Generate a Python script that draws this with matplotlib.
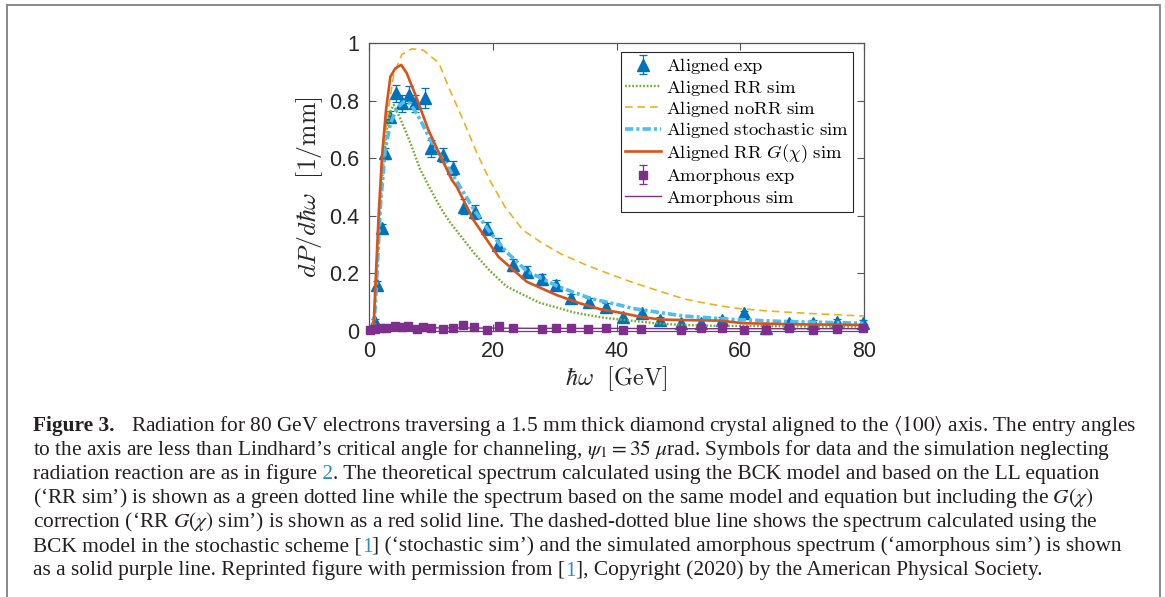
import matplotlib
matplotlib.use('Agg')
import matplotlib.pyplot as plt
from matplotlib.patches import Rectangle

# ---------------- data ----------------
E_al = [0.97, 1.35, 2.05, 2.6, 3.4, 4.36, 5.28, 6.5, 7.43, 9.05, 10.1, 12.0, 13.6, 15.35, 17.1,
        19.0, 20.9, 23.2, 25.5, 27.9, 30.3, 32.7, 35.6, 38.3, 41.1, 44.05, 47.1, 50.5, 53.7, 57.1,
        60.6, 64.2, 67.9, 71.8, 75.7, 79.8]
V_al = [0.03, 0.16, 0.357, 0.617, 0.744, 0.825, 0.79, 0.82, 0.79, 0.81, 0.634, 0.611, 0.565, 0.432, 0.414,
        0.357, 0.30, 0.229, 0.206, 0.179, 0.16, 0.113, 0.10, 0.085, 0.05, 0.061, 0.038, 0.027, 0.027, 0.038,
        0.061, 0.01, 0.027, 0.027, 0.032, 0.027]
ERR_al = [0.01, 0.015, 0.015, 0.02, 0.02, 0.03, 0.03, 0.03, 0.03, 0.035, 0.03, 0.025, 0.025, 0.025, 0.025,
          0.022, 0.022, 0.02, 0.02, 0.018, 0.018, 0.015, 0.015, 0.012, 0.012, 0.012, 0.01, 0.01, 0.01, 0.01,
          0.01, 0.01, 0.01, 0.01, 0.01, 0.01]

E_am = [0.16, 0.97, 1.9, 2.75, 4.2, 5.28, 6.35, 7.7, 8.8, 10.1, 12.0, 13.5, 15.25, 17.0, 19.0,
        21.05, 23.2, 27.9, 30.3, 32.7, 35.4, 38.3, 41.1, 44.0, 50.5, 53.7, 57.1, 60.6, 64.2, 67.9,
        71.8, 75.7, 79.8]
V_am = [0.003, 0.006, 0.010, 0.012, 0.018, 0.013, 0.018, 0.006, 0.013, 0.010, 0.006, 0.009, 0.021, 0.015, 0.004,
        0.017, 0.012, 0.006, 0.009, 0.012, 0.006, 0.009, 0.004, 0.006, 0.004, 0.009, 0.012, 0.003, 0.003, 0.009,
        0.003, 0.006, 0.009]
ERR_am = [0.003] * len(E_am)

E_rr = [0.5, 0.8, 1.0, 1.3, 1.8, 2.4, 3.0, 3.5, 4.0, 5.0, 6.0, 7.0, 8.2, 9.5, 11.5, 13.0, 15.0, 17.0,
        19.5, 22.2, 25.0, 27.6, 30.3, 33.0, 35.5, 38.0, 40.5, 44.0, 48.0, 52.0, 56.4, 62.0, 68.0, 74.0, 80.0]
V_rr = [0.0, 0.02, 0.1, 0.22, 0.43, 0.6, 0.72, 0.765, 0.785, 0.74, 0.69, 0.635, 0.565, 0.51, 0.43, 0.38, 0.325, 0.27,
        0.21, 0.155, 0.125, 0.098, 0.082, 0.065, 0.055, 0.046, 0.04, 0.032, 0.024, 0.02, 0.018, 0.017, 0.016, 0.015, 0.015]

E_norr = [0.6, 1.0, 1.5, 2.0, 2.6, 3.2, 4.0, 5.3, 6.9, 8.8, 11.3, 13.0, 15.2, 17.4, 19.5, 22.0, 24.9, 28.0,
          31.0, 35.0, 38.0, 42.7, 46.0, 50.8, 55.0, 58.9, 63.0, 67.0, 72.0, 76.0, 80.0]
V_norr = [0.0, 0.1, 0.33, 0.53, 0.68, 0.78, 0.89, 0.96, 0.98, 0.975, 0.93, 0.84, 0.733, 0.62, 0.524, 0.43, 0.35, 0.305,
          0.268, 0.23, 0.205, 0.168, 0.145, 0.112, 0.094, 0.08, 0.072, 0.066, 0.06, 0.056, 0.052]

E_st = [0.6, 1.0, 1.3, 1.83, 2.6, 3.45, 4.5, 5.6, 6.7, 8.3, 10.0, 13.6, 17.0, 19.5, 21.2, 22.2, 25.5, 30.6,
        35.8, 40.5, 42.7, 50.8, 58.9, 67.0, 79.9]
V_st = [0.0, 0.08, 0.2, 0.43, 0.628, 0.72, 0.773, 0.796, 0.79, 0.733, 0.66, 0.54, 0.42, 0.345, 0.30, 0.275, 0.208, 0.154,
        0.113, 0.09, 0.078, 0.052, 0.04, 0.033, 0.027]

E_g = [0.5, 0.75, 1.0, 1.55, 2.1, 2.75, 3.45, 4.25, 5.2, 6.1, 7.5, 9.6, 11.6, 13.4, 14.2, 16.9, 20.9, 25.5,
       30.3, 34.1, 37.5, 40.5, 43.7, 47.0, 50.8, 56.7, 60.5, 69.6, 79.8]
V_g = [0.0, 0.015, 0.14, 0.40, 0.605, 0.767, 0.883, 0.912, 0.924, 0.895, 0.82, 0.698, 0.605, 0.524, 0.50, 0.385, 0.258, 0.171,
       0.125, 0.096, 0.075, 0.064, 0.05, 0.04, 0.038, 0.036, 0.027, 0.023, 0.021]

E_as = [0, 0.5, 1, 2, 3, 5, 10, 20, 30, 40, 50, 60, 70, 80]
V_as = [0.0, 0.003, 0.008, 0.011, 0.012, 0.012, 0.011, 0.010, 0.009, 0.009, 0.008, 0.008, 0.008, 0.008]

labels = [r'$\mathrm{Aligned\ exp}$', r'$\mathrm{Aligned\ RR\ sim}$', r'$\mathrm{Aligned\ noRR\ sim}$',
          r'$\mathrm{Aligned\ stochastic\ sim}$', r'$\mathrm{Aligned\ RR}\ G(\chi)\ \mathrm{sim}$',
          r'$\mathrm{Amorphous\ exp}$', r'$\mathrm{Amorphous\ sim}$']
xticks = [0, 20, 40, 60, 80]
yticks = [0, 0.2, 0.4, 0.6, 0.8, 1.0]
yticklabels = ['0', '0.2', '0.4', '0.6', '0.8', '1']

caption_lines = [
    [("Figure 3.", {'weight': 'bold'}),
     ("   Radiation for 80 GeV electrons traversing a 1.5 mm thick diamond crystal aligned to the $\\langle 100\\rangle$ axis. The entry angles", {})],
    [("to the axis are less than Lindhard\u2019s critical angle for channeling, $\\psi_1 = 35\\ \\mu$rad. Symbols for data and the simulation neglecting", {})],
    [("radiation reaction are as in figure", {}), (" 2", {'color': 'blue'}),
     (". The theoretical spectrum calculated using the BCK model and based on the LL equation", {})],
    [("(\u2018RR sim\u2019) is shown as a green dotted line while the spectrum based on the same model and equation but including the $G(\\chi)$", {})],
    [("correction (\u2018RR $G(\\chi)$ sim\u2019) is shown as a red solid line. The dashed-dotted blue line shows the spectrum calculated using the", {})],
    [("BCK model in the stochastic scheme [", {}), ("1", {'color': 'blue'}),
     ("] (\u2018stochastic sim\u2019) and the simulated amorphous spectrum (\u2018amorphous sim\u2019) is shown", {})],
    [("as a solid purple line. Reprinted figure with permission from [", {}), ("1", {'color': 'blue'}),
     ("], Copyright (2020) by the American Physical Society.", {})],
]

# ---------------- figure ----------------
plt.rcParams['font.family'] = ['Liberation Sans', 'DejaVu Sans']
plt.rcParams['mathtext.fontset'] = 'cm'
plt.rcParams['lines.scale_dashes'] = False

W, H = 1165, 597
fig = plt.figure(figsize=(W / 100, H / 100), dpi=100)

# outer frame (bottom edge outside the image)
fig.patches.append(Rectangle((6.5 / W, -0.05), (1160 - 6.5) / W, 1.05 - 5.5 / H,
                             transform=fig.transFigure, fill=False, edgecolor='#808080', lw=1.3))

ax = fig.add_axes([369 / W, 1 - 331 / H, 495 / W, 288 / H])

C_BLUE = '#0072BD'
C_GREEN = '#77AC30'
C_YEL = '#EDB120'
C_LBLUE = '#4DBEEE'
C_RED = '#D95319'
C_PUR = '#7E2F8E'

h0 = ax.errorbar(E_al, V_al, yerr=ERR_al, fmt='^', color=C_BLUE, ms=8, capsize=3, elinewidth=0.9,
                 capthick=0.9, label=labels[0], zorder=3, clip_on=False)
h1, = ax.plot(E_rr, V_rr, color=C_GREEN, lw=1.7, dashes=(1.3, 1.3), label=labels[1], zorder=4)
h2, = ax.plot(E_norr, V_norr, color=C_YEL, lw=1.2, dashes=(5.5, 3.5), label=labels[2], zorder=4)
h3, = ax.plot(E_st, V_st, color=C_LBLUE, lw=2.6, dashes=(6, 2.2, 2.2, 2.2), label=labels[3], zorder=4)
h4, = ax.plot(E_g, V_g, color=C_RED, lw=1.9, label=labels[4], zorder=5)
h5 = ax.errorbar(E_am, V_am, yerr=ERR_am, fmt='s', color=C_PUR, ms=6, capsize=3, elinewidth=0.9,
                 capthick=0.9, label=labels[5], zorder=6, clip_on=False)
h6, = ax.plot(E_as, V_as, color=C_PUR, lw=1.0, label=labels[6], zorder=6)

ax.set_xlim(0, 80)
ax.set_ylim(0, 1)
ax.set_xticks(xticks)
ax.set_xticklabels([str(t) for t in xticks])
ax.set_yticks(yticks)
ax.set_yticklabels(yticklabels)
ax.tick_params(direction='in', top=True, right=True, length=5, width=0.8, color='#555555',
               labelcolor='#262626', labelsize=15.5, pad=7)
for s in ax.spines.values():
    s.set_color('#555555')
    s.set_linewidth(0.9)

ax.set_xlabel(r'$\hbar\omega\ \ [\mathrm{GeV}]$', fontsize=17.5, color='#262626', labelpad=2)
ax.set_ylabel(r'$dP/d\hbar\omega\ \ [1/\mathrm{mm}]$', fontsize=18.5, color='#262626', labelpad=3)

leg = ax.legend([h0, h1, h2, h3, h4, h5, h6], labels,
                loc='upper right', bbox_to_anchor=(0.978, 0.969), borderaxespad=0, fontsize=13.4,
                frameon=True, fancybox=False, edgecolor='#262626', framealpha=1, handlelength=1.9,
                handletextpad=0.3, labelspacing=0.08, borderpad=0.22)
leg.get_frame().set_linewidth(0.8)

# ---------------- caption ----------------
renderer = fig.canvas.get_renderer()
TXT = '#231f20'
LINK = '#2a8cc8'
X0 = 33
BASELINES = [431, 455, 479, 503.5, 527.5, 551.5, 575.5]


def draw_line(y_px, segs, size, keep=True):
    x = X0
    made = []
    for txt, kw in segs:
        col = LINK if kw.get('color') == 'blue' else TXT
        t = fig.text(x / W, 1 - y_px / H, txt, fontsize=size, family='Liberation Serif',
                     fontweight=kw.get('weight', 'normal'), color=col, va='baseline', ha='left',
                     math_fontfamily='stix')
        x += t.get_window_extent(renderer).width
        made.append(t)
    if not keep:
        for t in made:
            t.remove()
    return x


w_test = draw_line(BASELINES[0], caption_lines[0], 14, keep=False) - X0
cap_size = 14 * (1139 - X0) / w_test
for y, segs in zip(BASELINES, caption_lines):
    draw_line(y, segs, cap_size)

fig.savefig('out.png', dpi=100)
